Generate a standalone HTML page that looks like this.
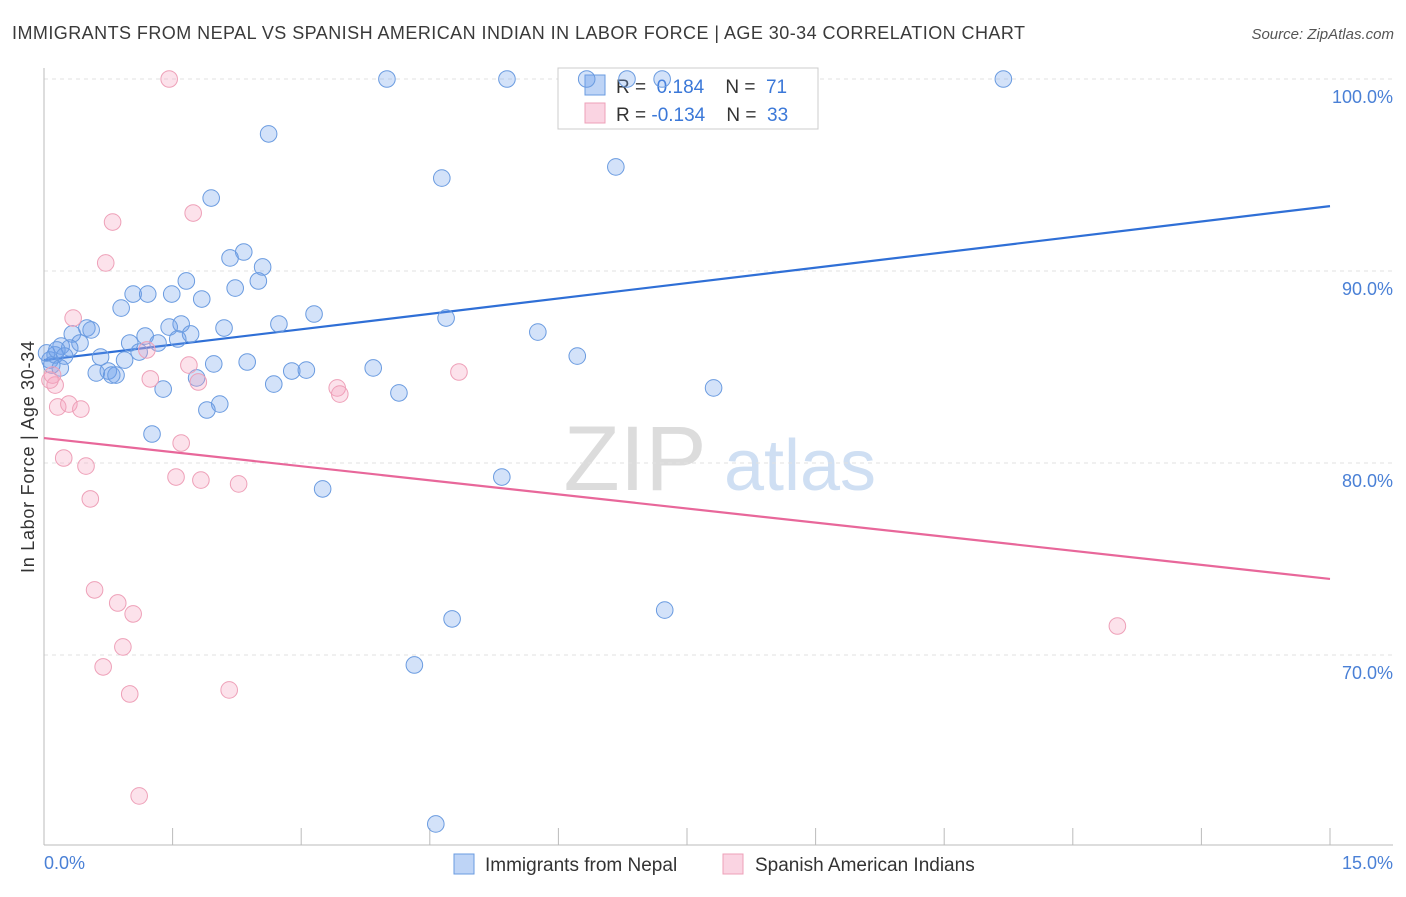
<!DOCTYPE html>
<html><head><meta charset="utf-8"><style>
body{margin:0;background:#fff;font-family:"Liberation Sans",sans-serif}
svg text{font-family:"Liberation Sans",sans-serif}
</style></head><body>
<svg id="chart" width="1406" height="892" viewBox="0 0 1406 892">
<text x="12" y="39" font-size="18" fill="#3a3a3a" textLength="1013" lengthAdjust="spacing">IMMIGRANTS FROM NEPAL VS SPANISH AMERICAN INDIAN IN LABOR FORCE | AGE 30-34 CORRELATION CHART</text>
<text x="1394" y="39" font-size="15" fill="#555" font-style="italic" text-anchor="end">Source: ZipAtlas.com</text>
<g>
<text x="635" y="490" font-size="92" fill="#dcdcdc" font-family="Liberation Serif" text-anchor="middle">ZIP</text>
<text x="800" y="490" font-size="72" fill="#cfdff3" text-anchor="middle">atlas</text></g>
<g id="grid"></g><g id="axes"></g><g id="lines"></g>
<g>
<rect x="558" y="68" width="260" height="61" fill="#fff" stroke="#ccc"/>
<rect x="585" y="75" width="20" height="20" fill="rgba(110,160,235,0.45)" stroke="#6a9be0"/>
<rect x="585" y="103" width="20" height="20" fill="rgba(245,160,190,0.45)" stroke="#eea0b8"/>
<text x="616" y="93" font-size="19" fill="#333">R = <tspan fill="#3b78d8">&#160;0.184</tspan>&#160;&#160;&#160;&#160;N = <tspan fill="#3b78d8">&#160;71</tspan></text>
<text x="616" y="121" font-size="19" fill="#333">R = <tspan fill="#3b78d8">-0.134</tspan>&#160;&#160;&#160;&#160;N = <tspan fill="#3b78d8">&#160;33</tspan></text>
</g>
<g id="pts"></g>
<text transform="translate(34,457) rotate(-90)" font-size="18" fill="#333" text-anchor="middle" textLength="232" lengthAdjust="spacing">In Labor Force | Age 30-34</text>
<g>
<rect x="454" y="854" width="20" height="20" fill="rgba(110,160,235,0.45)" stroke="#6a9be0"/>
<text x="485" y="871" font-size="19" fill="#333">Immigrants from Nepal</text>
<rect x="723" y="854" width="20" height="20" fill="rgba(245,160,190,0.45)" stroke="#eea0b8"/>
<text x="755" y="871" font-size="19" fill="#333">Spanish American Indians</text>
</g>
</svg>
<script>
const xTickLabels=["0.0%","15.0%"];
const yTicks=[70,80,90,100];
const yTickLabels=["70.0%","80.0%","90.0%","100.0%"];
const nepalX=[4.00,5.40,6.33,6.80,7.21,11.19,2.62,4.64,6.67,1.95,2.33,2.17,2.55,1.66,2.50,1.04,1.21,1.49,2.23,1.84,0.90,3.15,4.69,5.76,1.60,1.46,2.10,2.74,0.50,0.55,0.33,1.18,1.71,1.56,1.00,1.33,0.42,0.20,0.30,0.66,1.11,0.94,2.37,1.98,3.84,6.22,0.61,0.75,0.79,0.84,2.89,3.06,1.78,2.68,1.39,4.14,7.81,2.05,1.90,1.26,3.25,5.34,7.24,4.76,4.32,4.57,0.07,0.13,0.09,0.19,0.03,0.15,0.24];
const nepalY=[100,100,100,100,100,100,97.14,94.84,95.42,93.80,90.99,90.68,90.21,89.48,89.48,88.80,88.80,88.80,89.11,88.54,88.07,87.76,87.55,86.82,87.24,87.08,87.03,87.24,87.03,86.93,86.72,86.61,86.72,86.46,86.25,86.25,86.25,86.09,85.99,85.52,85.78,85.36,85.26,85.16,84.95,85.57,84.69,84.79,84.58,84.58,84.79,84.84,84.43,84.11,83.85,83.65,83.91,83.07,82.76,81.51,78.65,79.27,72.34,71.88,69.48,61.20,85.36,85.63,85.10,84.95,85.73,85.89,85.57];
const spanX=[1.46,0.80,1.74,0.72,0.34,1.20,1.69,1.80,1.24,3.42,3.45,4.84,0.13,0.16,0.29,0.43,1.60,0.23,0.49,1.54,1.83,2.27,0.54,0.59,0.86,1.04,0.92,0.69,1.00,2.16,1.11,12.52,0.10,0.07];
const spanY=[100,92.55,93.02,90.42,87.55,85.89,85.10,84.22,84.38,83.91,83.59,84.74,84.06,82.92,83.07,82.81,81.04,80.26,79.84,79.27,79.11,78.91,78.13,73.39,72.71,72.14,70.42,69.38,67.97,68.18,62.66,71.51,84.58,84.32];
const nepalTrend=[85.36,93.38];
const spanTrend=[81.3,73.96];
const X0=44,X1=1330,YB=845;
const sx=v=>X0+(v/15)*(X1-X0);
const sy=v=>79+(100-v)*19.2;
const NS="http://www.w3.org/2000/svg";
function mk(tag,attrs,parent){const e=document.createElementNS(NS,tag);for(const k in attrs)e.setAttribute(k,attrs[k]);parent.appendChild(e);return e;}
const grid=document.getElementById('grid'),axes=document.getElementById('axes'),lines=document.getElementById('lines'),pts=document.getElementById('pts');
yTicks.forEach((t,i)=>{
 const g=mk('line',{x1:X0,x2:1393,y1:sy(t),y2:sy(t),stroke:'#e2e2e2','stroke-dasharray':'4,4'},grid);
 
 
 const tx=mk('text',{x:1393,y:sy(t)+24,'font-size':18,fill:'#4a80d6','text-anchor':'end'},axes);
 tx.textContent=yTickLabels[i];
 
 
});
const la=mk('line',{x1:X0,x2:X0,y1:68,y2:YB,stroke:'#bbb'},axes);


const ba=mk('line',{x1:X0,x2:1393,y1:YB,y2:YB,stroke:'#bbb'},axes);


for(let i=1;i<=10;i++){const t=mk('line',{x1:sx(i*1.5),x2:sx(i*1.5),y1:828,y2:YB,stroke:'#bbb'},axes);
 
 }
const xl0=mk('text',{x:44,y:869,'font-size':18,fill:'#4a80d6'},axes);xl0.textContent=xTickLabels[0];


const xl1=mk('text',{x:1393,y:869,'font-size':18,fill:'#4a80d6','text-anchor':'end'},axes);xl1.textContent=xTickLabels[1];


nepalX.forEach((x,i)=>{const c=mk('circle',{cx:sx(x),cy:sy(nepalY[i]),r:8.3,fill:'rgba(110,160,235,0.3)',stroke:'#6a9be0','stroke-width':1},pts);
 
 });
spanX.forEach((x,i)=>{const c=mk('circle',{cx:sx(x),cy:sy(spanY[i]),r:8.3,fill:'rgba(245,160,190,0.3)',stroke:'#eea0b8','stroke-width':1},pts);
 
 });
const bl=mk('line',{x1:X0,x2:X1,y1:sy(nepalTrend[0]),y2:sy(nepalTrend[1]),stroke:'#2f6fd6','stroke-width':2.2},lines);


const pl=mk('line',{x1:X0,x2:X1,y1:sy(spanTrend[0]),y2:sy(spanTrend[1]),stroke:'#e8679a','stroke-width':2.2},lines);


</script>
</body></html>
